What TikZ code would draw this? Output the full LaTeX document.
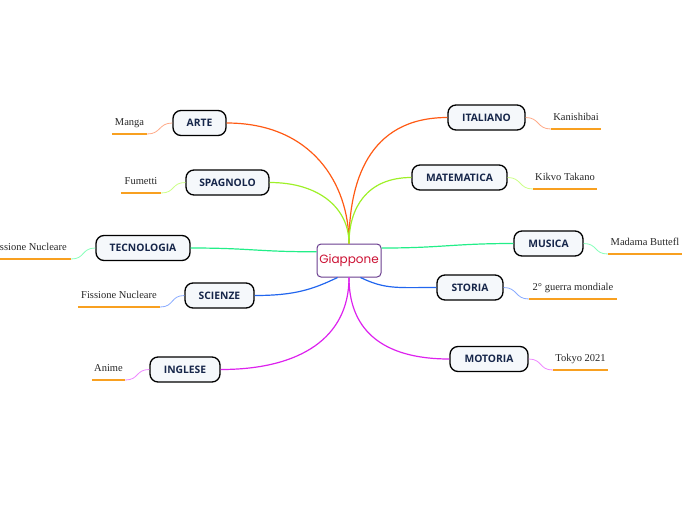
\documentclass[tikz,border=0pt]{standalone}
\usepackage{fontspec}
\setmainfont{Liberation Serif}
\newfontfamily\branchfont{Open Sans}
\newfontfamily\centerfont{Poppins}
\definecolor{navy}{HTML}{16264A}
\definecolor{cOr}{HTML}{FF5A14}
\definecolor{cYg}{HTML}{9EF028}
\definecolor{cGr}{HTML}{22EE88}
\definecolor{cBl}{HTML}{2266EE}
\definecolor{cMg}{HTML}{DD22EE}
\definecolor{lOr}{HTML}{FFAA88}
\definecolor{lYg}{HTML}{CCFF88}
\definecolor{lGr}{HTML}{88FFBB}
\definecolor{lBl}{HTML}{88AAFF}
\definecolor{lMg}{HTML}{EE88FF}
\definecolor{uline}{HTML}{F8A020}
\definecolor{cbord}{HTML}{6A3D8F}
\definecolor{ctext}{HTML}{CC1133}
\definecolor{bfill}{HTML}{F5F8FB}
\tikzset{
  branch/.style={draw=black, line width=1.3pt, fill=bfill, rounded corners=8pt,
    font=\branchfont\bfseries\fontsize{10.3}{12}\selectfont, text=navy,
    inner sep=0pt, minimum height=25pt},
  leaf/.style={inner xsep=0pt, inner ysep=0pt, text height=7pt, text depth=8pt,
    font=\fontsize{10.5}{12}\selectfont, text=black!85, anchor=south},
  ul/.style={draw=uline, line width=1.5pt},
  main/.style={line width=1.2pt},
  sub/.style={line width=0.8pt}
}
\begin{document}
\begin{tikzpicture}[x=1pt,y=-1pt]
\useasboundingbox (0,0) rectangle (696,520);
\clip (0,0) rectangle (696,520);
% center
\node[draw=cbord, line width=1pt, rounded corners=4pt, fill=white, minimum width=64pt, minimum height=33pt, inner sep=0pt, font=\centerfont\fontsize{12}{14}\selectfont, text=ctext] (c) at (349,260.5) {Giappone};
% branches
\node[branch, minimum width=53pt] (b1) at (199.5,123) {ARTE};
\node[branch, minimum width=83pt] (b2) at (227.5,182.5) {SPAGNOLO};
\node[branch, minimum width=94pt] (b3) at (143,248) {TECNOLOGIA};
\node[branch, minimum width=69pt] (b4) at (219.5,295.5) {SCIENZE};
\node[branch, minimum width=70pt] (b5) at (185,369.5) {INGLESE};
\node[branch, minimum width=77pt] (b6) at (486.5,117.5) {ITALIANO};
\node[branch, minimum width=95pt] (b7) at (459.5,177.5) {MATEMATICA};
\node[branch, minimum width=69pt] (b8) at (548.5,243.5) {MUSICA};
\node[branch, minimum width=66pt] (b9) at (470,287.5) {STORIA};
\node[branch, minimum width=78pt] (b10) at (489,359) {MOTORIA};
% leaves
\node[leaf, minimum width=35pt] (l1) at (129.5,134) {Manga};
\node[leaf, minimum width=40pt] (l2) at (141,193) {Fumetti};
\node[leaf, minimum width=84pt] (l3) at (29,259) {Fissione Nucleare};
\node[leaf, minimum width=82pt] (l4) at (119,307) {Fissione Nucleare};
\node[leaf, minimum width=33pt] (l5) at (108.5,380) {Anime};
\node[leaf, minimum width=50pt] (l6) at (576,129) {Kanishibai};
\node[leaf, minimum width=64pt] (l7) at (565,189) {Kikvo Takano};
\node[leaf, minimum width=74pt] (l8) at (645,254) {Madama Buttefl};
\node[leaf, minimum width=88pt] (l9) at (573,299) {2° guerra mondiale};
\node[leaf, minimum width=55pt] (l10) at (580.5,370) {Tokyo 2021};
\foreach \l in {l1,l2,l3,l4,l5,l6,l7,l8,l9,l10}
  \draw[ul] (\l.south west) -- (\l.south east);
% main connectors
\draw[main, cOr] (b1.east) .. controls +(85,0) and +(0,-60) .. (c.north);
\draw[main, cOr] (b6.west) .. controls +(-80,0) and +(0,-60) .. (c.north);
\draw[main, cYg] (b2.east) .. controls +(50,0) and +(0,-35) .. (c.north);
\draw[main, cYg] (b7.west) .. controls +(-45,0) and +(0,-35) .. (c.north);
\draw[main, cGr] (b3.east) .. controls +(60,0) and +(-60,0) .. (c.165);
\draw[main, cGr] (b8.west) .. controls +(-60,0) and +(60,0) .. (c.21);
\draw[main, cBl] (b4.east) .. controls +(40,0) and +(-25,12) .. (c.236);
\draw[main, cBl] (b9.west) .. controls +(-40,0) and +(25,12) .. (c.304);
\draw[main, cMg] (b5.east) .. controls +(80,0) and +(0,60) .. (c.south);
\draw[main, cMg] (b10.west) .. controls +(-70,0) and +(0,50) .. (c.south);
% leaf connectors
\draw[sub, lOr] (b1.west) .. controls +(-14,0) and +(14,0) .. (l1.south east);
\draw[sub, lYg] (b2.west) .. controls +(-14,0) and +(14,0) .. (l2.south east);
\draw[sub, lGr] (b3.west) .. controls +(-14,0) and +(14,0) .. (l3.south east);
\draw[sub, lBl] (b4.west) .. controls +(-14,0) and +(14,0) .. (l4.south east);
\draw[sub, lMg] (b5.west) .. controls +(-14,0) and +(14,0) .. (l5.south east);
\draw[sub, lOr] (b6.east) .. controls +(14,0) and +(-14,0) .. (l6.south west);
\draw[sub, lYg] (b7.east) .. controls +(14,0) and +(-14,0) .. (l7.south west);
\draw[sub, lGr] (b8.east) .. controls +(14,0) and +(-14,0) .. (l8.south west);
\draw[sub, lBl] (b9.east) .. controls +(14,0) and +(-14,0) .. (l9.south west);
\draw[sub, lMg] (b10.east) .. controls +(14,0) and +(-14,0) .. (l10.south west);
\end{tikzpicture}
\end{document}
